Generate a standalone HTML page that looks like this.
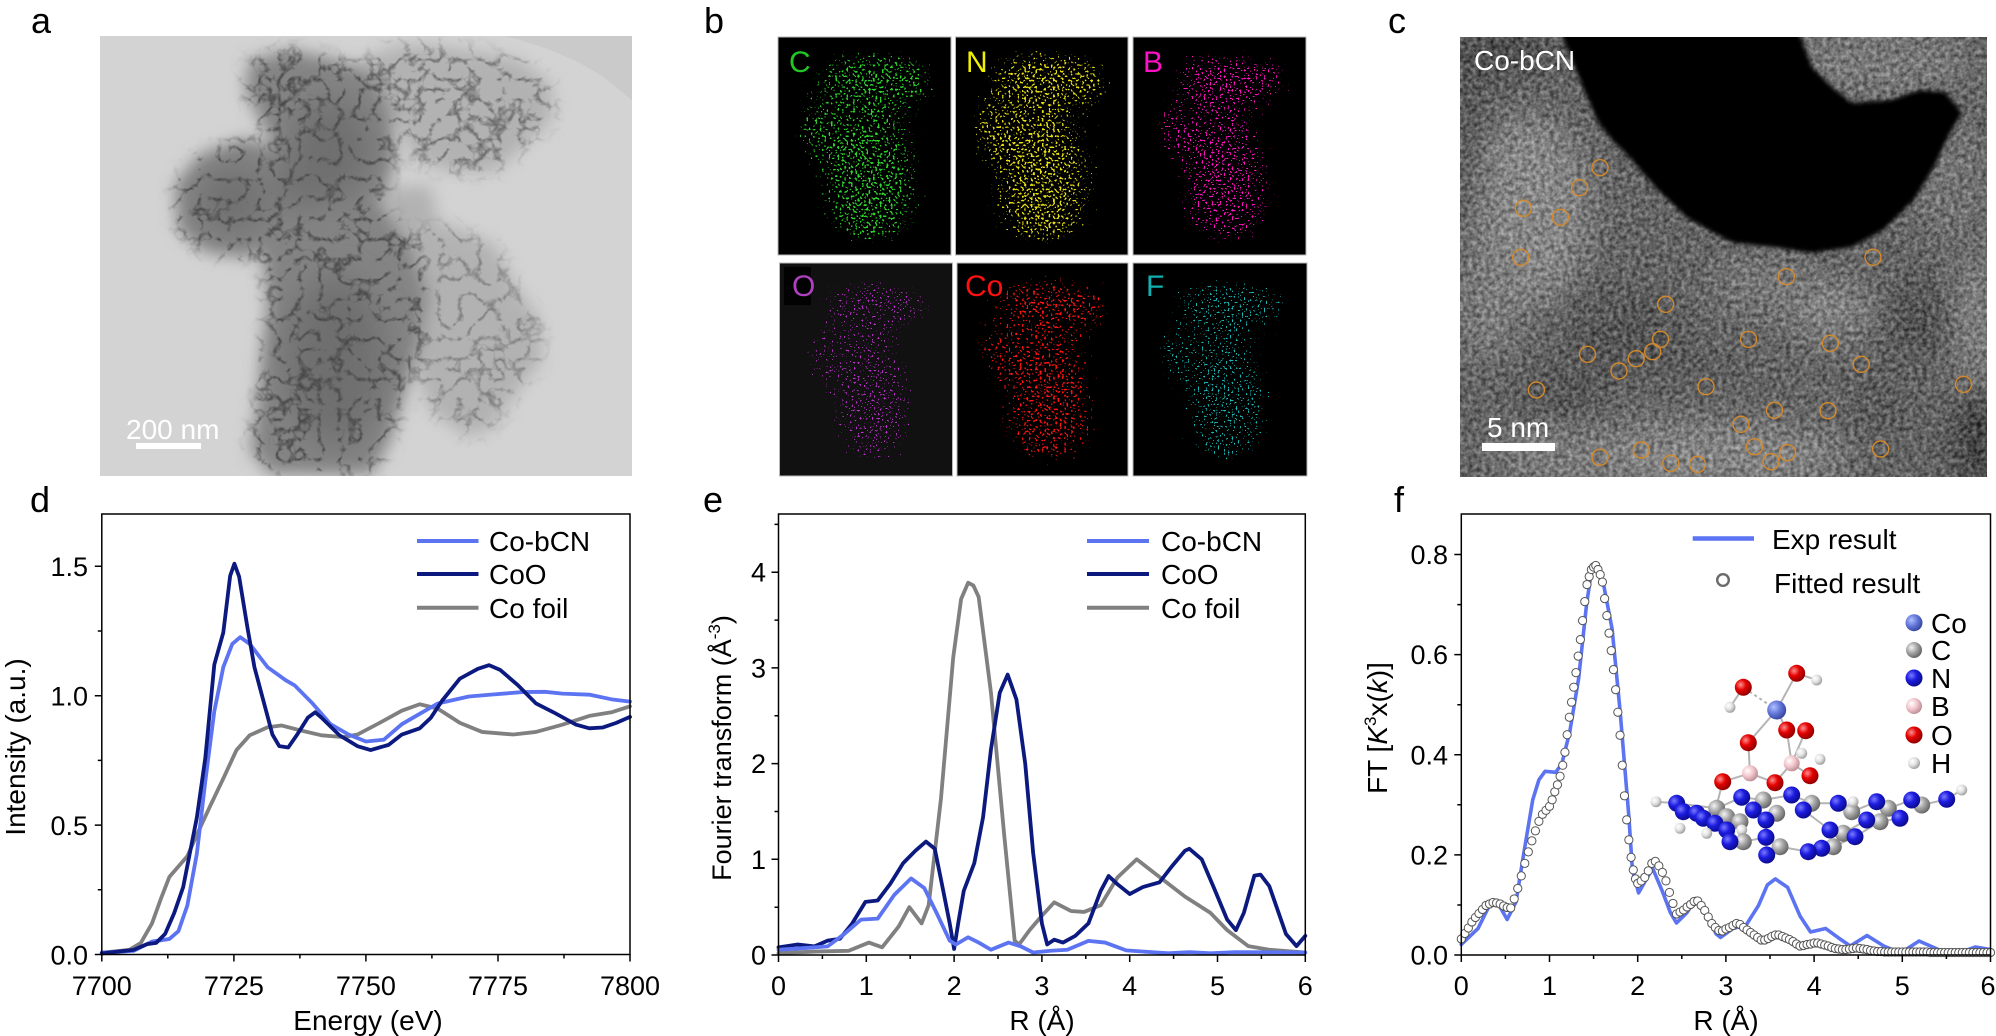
<!DOCTYPE html>
<html><head><meta charset="utf-8">
<style>
html,body{margin:0;padding:0;background:#fff;}
svg{display:block;}
text{font-family:"Liberation Sans",Arial,sans-serif;fill:#000;}
</style></head><body>
<svg width="1996" height="1036" viewBox="0 0 1996 1036" xmlns="http://www.w3.org/2000/svg">
<defs>
 <filter id="bl8" x="-20%" y="-20%" width="140%" height="140%"><feGaussianBlur stdDeviation="8"/></filter>
 <filter id="bl16" x="-30%" y="-30%" width="160%" height="160%"><feGaussianBlur stdDeviation="16"/></filter>
 <filter id="bl2"><feGaussianBlur stdDeviation="2"/></filter>
 <filter id="aTex" filterUnits="userSpaceOnUse" x="100" y="36" width="532" height="440" color-interpolation-filters="sRGB">
  <feTurbulence type="turbulence" baseFrequency="0.05" numOctaves="3" seed="11" result="t"/>
  <feColorMatrix in="t" type="matrix" values="0 0 0 0 0  0 0 0 0 0  0 0 0 0 0  -4 0 0 0 1.05" result="ta"/>
  <feGaussianBlur in="SourceAlpha" stdDeviation="8" result="sb"/>
  <feComposite in="ta" in2="sb" operator="arithmetic" k1="1" k2="0" k3="0" k4="0" result="m"/>
  <feFlood flood-color="#454545"/>
  <feComposite in2="m" operator="in"/>
 </filter>
 <filter id="grain" filterUnits="userSpaceOnUse" x="1460" y="37" width="527" height="440" color-interpolation-filters="sRGB">
  <feTurbulence type="fractalNoise" baseFrequency="0.22" numOctaves="2" seed="4"/>
  <feColorMatrix type="matrix" values="1.6 0 0 0 -0.3  1.6 0 0 0 -0.3  1.6 0 0 0 -0.3  0 0 0 0 0.35"/>
 </filter>
 <filter id="spG" x="0" y="0" width="1" height="1" color-interpolation-filters="sRGB">
  <feTurbulence type="fractalNoise" baseFrequency="0.45" numOctaves="1" seed="3" result="n"/>
  <feColorMatrix in="n" type="matrix" values="0 0 0 0 0  0 0 0 0 0  0 0 0 0 0  1 0 0 0 0" result="na"/>
  <feGaussianBlur in="SourceAlpha" stdDeviation="14" result="sb"/>
  <feComposite in="na" in2="sb" operator="arithmetic" k1="1" k2="0" k3="0" k4="0" result="m"/>
  <feComponentTransfer in="m" result="th"><feFuncA type="linear" slope="20" intercept="-11.24"/></feComponentTransfer>
  <feFlood flood-color="#2cd42c"/>
  <feComposite in2="th" operator="in"/>
 </filter>
 <filter id="spY" x="0" y="0" width="1" height="1" color-interpolation-filters="sRGB">
  <feTurbulence type="fractalNoise" baseFrequency="0.45" numOctaves="1" seed="8" result="n"/>
  <feColorMatrix in="n" type="matrix" values="0 0 0 0 0  0 0 0 0 0  0 0 0 0 0  1 0 0 0 0" result="na"/>
  <feGaussianBlur in="SourceAlpha" stdDeviation="14" result="sb"/>
  <feComposite in="na" in2="sb" operator="arithmetic" k1="1" k2="0" k3="0" k4="0" result="m"/>
  <feComponentTransfer in="m" result="th"><feFuncA type="linear" slope="20" intercept="-11.12"/></feComponentTransfer>
  <feFlood flood-color="#e8e010"/>
  <feComposite in2="th" operator="in"/>
 </filter>
 <filter id="spM" x="0" y="0" width="1" height="1" color-interpolation-filters="sRGB">
  <feTurbulence type="fractalNoise" baseFrequency="0.5" numOctaves="1" seed="13" result="n"/>
  <feColorMatrix in="n" type="matrix" values="0 0 0 0 0  0 0 0 0 0  0 0 0 0 0  1 0 0 0 0" result="na"/>
  <feGaussianBlur in="SourceAlpha" stdDeviation="14" result="sb"/>
  <feComposite in="na" in2="sb" operator="arithmetic" k1="1" k2="0" k3="0" k4="0" result="m"/>
  <feComponentTransfer in="m" result="th"><feFuncA type="linear" slope="20" intercept="-11.82"/></feComponentTransfer>
  <feFlood flood-color="#ff10c0"/>
  <feComposite in2="th" operator="in"/>
 </filter>
 <filter id="spP" x="0" y="0" width="1" height="1" color-interpolation-filters="sRGB">
  <feTurbulence type="fractalNoise" baseFrequency="0.5" numOctaves="1" seed="21" result="n"/>
  <feColorMatrix in="n" type="matrix" values="0 0 0 0 0  0 0 0 0 0  0 0 0 0 0  1 0 0 0 0" result="na"/>
  <feGaussianBlur in="SourceAlpha" stdDeviation="14" result="sb"/>
  <feComposite in="na" in2="sb" operator="arithmetic" k1="1" k2="0" k3="0" k4="0" result="m"/>
  <feComponentTransfer in="m" result="th"><feFuncA type="linear" slope="20" intercept="-12.4"/></feComponentTransfer>
  <feFlood flood-color="#c030d0"/>
  <feComposite in2="th" operator="in"/>
 </filter>
 <filter id="spR" x="0" y="0" width="1" height="1" color-interpolation-filters="sRGB">
  <feTurbulence type="fractalNoise" baseFrequency="0.45" numOctaves="1" seed="31" result="n"/>
  <feColorMatrix in="n" type="matrix" values="0 0 0 0 0  0 0 0 0 0  0 0 0 0 0  1 0 0 0 0" result="na"/>
  <feGaussianBlur in="SourceAlpha" stdDeviation="14" result="sb"/>
  <feComposite in="na" in2="sb" operator="arithmetic" k1="1" k2="0" k3="0" k4="0" result="m"/>
  <feComponentTransfer in="m" result="th"><feFuncA type="linear" slope="20" intercept="-11.5"/></feComponentTransfer>
  <feFlood flood-color="#ff1414"/>
  <feComposite in2="th" operator="in"/>
 </filter>
 <filter id="spC" x="0" y="0" width="1" height="1" color-interpolation-filters="sRGB">
  <feTurbulence type="fractalNoise" baseFrequency="0.5" numOctaves="1" seed="41" result="n"/>
  <feColorMatrix in="n" type="matrix" values="0 0 0 0 0  0 0 0 0 0  0 0 0 0 0  1 0 0 0 0" result="na"/>
  <feGaussianBlur in="SourceAlpha" stdDeviation="14" result="sb"/>
  <feComposite in="na" in2="sb" operator="arithmetic" k1="1" k2="0" k3="0" k4="0" result="m"/>
  <feComponentTransfer in="m" result="th"><feFuncA type="linear" slope="20" intercept="-12.3"/></feComponentTransfer>
  <feFlood flood-color="#18b8b8"/>
  <feComposite in2="th" operator="in"/>
 </filter>
 <g id="blob">
  <ellipse cx="91" cy="41" rx="51" ry="33"/>
  <ellipse cx="40" cy="92" rx="20" ry="30"/>
  <ellipse cx="93" cy="145" rx="44" ry="74"/>
  <ellipse cx="138" cy="45" rx="22" ry="24"/>
 </g>
 <marker id="ring" markerUnits="userSpaceOnUse" overflow="visible" markerWidth="1" markerHeight="1" refX="0" refY="0" orient="0">
  <ellipse cx="0" cy="0" rx="0.0522" ry="0.0092" fill="#555"/>
  <ellipse cx="0" cy="0" rx="0.0408" ry="0.00719" fill="#fff"/>
 </marker>
 <radialGradient id="gN" cx="0.35" cy="0.35" r="0.7"><stop offset="0" stop-color="#7a7aff"/><stop offset="0.45" stop-color="#1c1ce0"/><stop offset="1" stop-color="#0a0a88"/></radialGradient>
 <radialGradient id="gC" cx="0.35" cy="0.35" r="0.7"><stop offset="0" stop-color="#f4f4f4"/><stop offset="0.5" stop-color="#a4a4a4"/><stop offset="1" stop-color="#626262"/></radialGradient>
 <radialGradient id="gO" cx="0.35" cy="0.35" r="0.7"><stop offset="0" stop-color="#ff9090"/><stop offset="0.45" stop-color="#e40000"/><stop offset="1" stop-color="#8a0000"/></radialGradient>
 <radialGradient id="gB" cx="0.35" cy="0.35" r="0.7"><stop offset="0" stop-color="#ffffff"/><stop offset="0.5" stop-color="#f2c6cc"/><stop offset="1" stop-color="#b88c92"/></radialGradient>
 <radialGradient id="gH" cx="0.35" cy="0.35" r="0.7"><stop offset="0" stop-color="#ffffff"/><stop offset="0.5" stop-color="#e2e2e2"/><stop offset="1" stop-color="#9a9a9a"/></radialGradient>
 <radialGradient id="gCo" cx="0.35" cy="0.35" r="0.7"><stop offset="0" stop-color="#b0c0ff"/><stop offset="0.5" stop-color="#6478da"/><stop offset="1" stop-color="#34449c"/></radialGradient>
 <clipPath id="clipA"><rect x="100" y="36" width="532" height="440"/></clipPath>
 <clipPath id="clipC"><rect x="1460" y="37" width="527" height="440"/></clipPath>
</defs>

<rect x="0" y="0" width="1996" height="1036" fill="#fff"/>

<!-- panel labels -->
<text x="31" y="33" font-size="36">a</text>
<text x="704" y="33" font-size="36">b</text>
<text x="1388" y="33" font-size="36">c</text>
<text x="30" y="512" font-size="36">d</text>
<text x="703" y="512" font-size="36">e</text>
<text x="1394" y="512" font-size="36">f</text>

<!-- ============ PANEL A ============ -->
<g clip-path="url(#clipA)">
 <rect x="100" y="36" width="532" height="440" fill="#d3d3d3"/>
 <path d="M505,36 C540,45 575,58 600,75 C615,85 625,95 632,100 L632,36 Z" fill="#cacaca"/>
 <g filter="url(#bl8)" fill="#b2b2b2">
  <polygon points="405,230 450,225 495,245 515,285 540,320 542,360 515,395 490,430 465,436 430,410 412,360 415,300"/>
  <polygon points="360,60 400,45 440,46 480,52 520,60 552,85 552,120 520,150 495,172 450,172 415,160 400,130 375,100"/>
  <polygon points="380,190 430,185 440,230 400,235"/>
 </g>
 <g filter="url(#bl8)" fill="#848484">
  <polygon points="250,60 290,50 330,58 370,70 392,110 395,160 385,195 355,200 320,185 285,160 262,125 245,90"/>
  <polygon points="175,185 200,155 245,138 280,150 292,195 280,235 250,258 205,252 178,230"/>
  <polygon points="268,160 320,170 380,200 412,245 428,295 420,345 405,390 390,440 372,474 270,474 250,450 258,400 262,355 268,305 262,255 262,200"/>
  <ellipse cx="300" cy="180" rx="30" ry="30"/>
  <ellipse cx="300" cy="150" rx="25" ry="25"/>
 </g>
 <g filter="url(#bl16)" fill="#6c6c6c" opacity="0.85">
  <ellipse cx="335" cy="360" rx="50" ry="85"/>
  <ellipse cx="330" cy="150" rx="40" ry="50"/>
  <ellipse cx="232" cy="200" rx="32" ry="32"/>
  <ellipse cx="300" cy="185" rx="25" ry="25"/>
 </g>
 <g filter="url(#aTex)">
  <polygon points="250,60 290,50 330,58 370,70 392,110 395,160 385,195 355,200 320,185 285,160 262,125 245,90"/>
  <polygon points="175,185 200,155 245,138 280,150 292,195 280,235 250,258 205,252 178,230"/>
  <polygon points="268,160 320,170 380,200 412,245 428,295 420,345 405,390 390,440 372,474 270,474 250,450 258,400 262,355 268,305 262,255 262,200"/>
  <polygon points="360,60 400,45 440,46 480,52 520,60 552,85 552,120 520,150 495,172 450,172 415,160 400,130 375,100" opacity="0.7"/>
  <polygon points="405,230 450,225 495,245 515,285 540,320 542,360 515,395 490,430 465,436 430,410 412,360 415,300" opacity="0.5"/>
 </g>
 <text x="126" y="439" font-size="28" style="fill:#fff">200 nm</text>
 <rect x="136" y="443" width="65" height="6" fill="#fff"/>
</g>

<!-- ============ PANEL B ============ -->
<g>
 <rect x="778" y="37" width="173" height="218" fill="#000" stroke="#b8b8b8" stroke-width="1"/>
 <rect x="955.5" y="37" width="172.5" height="218" fill="#000" stroke="#b8b8b8" stroke-width="1"/>
 <rect x="1133" y="37" width="173" height="218" fill="#000" stroke="#b8b8b8" stroke-width="1"/>
 <rect x="779.5" y="263" width="173" height="213" fill="#111" stroke="#b8b8b8" stroke-width="1"/>
 <rect x="957" y="263" width="171" height="213" fill="#000" stroke="#b8b8b8" stroke-width="1"/>
 <rect x="1133" y="263" width="174" height="213" fill="#000" stroke="#b8b8b8" stroke-width="1"/>
 <rect x="784" y="267" width="27" height="38" fill="#020202"/>

 <g filter="url(#spG)"><rect x="778" y="37" width="173" height="218" fill="#000" opacity="0.7"/><use href="#blob" transform="translate(778,37)"/></g>
 <g filter="url(#spY)"><rect x="955.5" y="37" width="172.5" height="218" fill="#000" opacity="0.7"/><use href="#blob" transform="translate(950,37)"/></g>
 <g filter="url(#spM)"><rect x="1133" y="37" width="173" height="218" fill="#000" opacity="0.7"/><use href="#blob" transform="translate(1133,37)"/></g>
 <g filter="url(#spP)"><rect x="779.5" y="263" width="173" height="213" fill="#000" opacity="0.7"/><use href="#blob" transform="translate(779,262) scale(1,0.98)"/></g>
 <g filter="url(#spR)"><rect x="957" y="263" width="171" height="213" fill="#000" opacity="0.7"/><use href="#blob" transform="translate(956,262) scale(1,0.98)"/></g>
 <g filter="url(#spC)"><rect x="1133" y="263" width="174" height="213" fill="#000" opacity="0.7"/><use href="#blob" transform="translate(1133,262) scale(1,0.98)"/></g>

 <text x="789" y="72" font-size="30" style="fill:#22c822">C</text>
 <text x="966" y="72" font-size="30" style="fill:#f0f000">N</text>
 <text x="1143" y="72" font-size="30" style="fill:#ff10c8">B</text>
 <text x="792" y="296" font-size="30" style="fill:#b040c0">O</text>
 <text x="965" y="296" font-size="30" style="fill:#ff1010">Co</text>
 <text x="1146" y="296" font-size="30" style="fill:#10b0b0">F</text>
</g>

<!-- ============ PANEL C ============ -->
<g clip-path="url(#clipC)">
 <rect x="1460" y="37" width="527" height="440" fill="#565656"/>
 <g filter="url(#bl16)">
  <ellipse cx="1530" cy="210" rx="60" ry="95" fill="#8a8a8a"/>
  <ellipse cx="1490" cy="300" rx="30" ry="60" fill="#7c7c7c"/>
  <ellipse cx="1700" cy="455" rx="150" ry="32" fill="#878787"/>
  <ellipse cx="1560" cy="455" rx="70" ry="26" fill="#7e7e7e"/>
  <ellipse cx="1830" cy="310" rx="45" ry="32" fill="#828282"/>
  <ellipse cx="1760" cy="285" rx="50" ry="30" fill="#727272"/>
  <ellipse cx="1975" cy="320" rx="16" ry="70" fill="#8c8c8c"/>
  <ellipse cx="1880" cy="62" rx="95" ry="32" fill="#767676"/>
  <ellipse cx="1950" cy="180" rx="40" ry="60" fill="#6c6c6c"/>
  <ellipse cx="1500" cy="52" rx="55" ry="22" fill="#2c2c2c"/>
  <ellipse cx="1625" cy="335" rx="60" ry="40" fill="#3e3e3e"/>
  <ellipse cx="1560" cy="395" rx="50" ry="28" fill="#404040"/>
  <ellipse cx="1920" cy="320" rx="38" ry="40" fill="#3a3a3a"/>
  <ellipse cx="1978" cy="440" rx="22" ry="55" fill="#1c1c1c"/>
  <ellipse cx="1880" cy="410" rx="30" ry="40" fill="#464646"/>
  <ellipse cx="1470" cy="150" rx="12" ry="80" fill="#333"/>
  <ellipse cx="1700" cy="370" rx="40" ry="22" fill="#484848"/>
  <ellipse cx="1590" cy="300" rx="30" ry="25" fill="#4a4a4a"/>
 </g>
 <rect x="1460" y="37" width="527" height="440" filter="url(#grain)"/>
 <path filter="url(#bl2)" fill="#030303" d="M1560,30 L1572,60 L1584,90 L1598,122 L1612,140 L1630,158 L1655,187 L1686,217 L1714,233 L1734,243 L1773,247 L1812,253 L1852,247 L1883,230 L1914,200 L1934,167 L1950,133 L1962,113 L1945,92 L1920,90 L1891,100 L1852,103 L1832,87 L1812,67 L1798,30 Z"/>
 <g fill="none" stroke="#d4892a" stroke-width="1.4">
  <circle cx="1600" cy="167.7" r="8"/><circle cx="1579.6" cy="187.7" r="8"/><circle cx="1523.4" cy="208.3" r="8"/>
  <circle cx="1560.4" cy="217.3" r="8"/><circle cx="1520.7" cy="257.3" r="8"/><circle cx="1873" cy="257.3" r="8"/>
  <circle cx="1786.3" cy="276.7" r="8"/><circle cx="1665.7" cy="304.3" r="8"/><circle cx="1748.6" cy="339.3" r="8"/>
  <circle cx="1660.5" cy="339.3" r="8"/><circle cx="1830.3" cy="343.3" r="8"/><circle cx="1587.5" cy="354.3" r="8"/>
  <circle cx="1652.7" cy="351.7" r="8"/><circle cx="1636.2" cy="358.7" r="8"/><circle cx="1861.3" cy="364.3" r="8"/>
  <circle cx="1619" cy="371" r="8"/><circle cx="1706" cy="386.7" r="8"/><circle cx="1963.5" cy="384.3" r="8"/>
  <circle cx="1536.4" cy="390" r="8"/><circle cx="1774.5" cy="410.3" r="8"/><circle cx="1828" cy="410.7" r="8"/>
  <circle cx="1741" cy="424.3" r="8"/><circle cx="1754.5" cy="446.7" r="8"/><circle cx="1787.5" cy="452.7" r="8"/>
  <circle cx="1880.6" cy="449" r="8"/><circle cx="1641.3" cy="450" r="8"/><circle cx="1600" cy="457.3" r="8"/>
  <circle cx="1670.8" cy="463.3" r="8"/><circle cx="1697.5" cy="464.3" r="8"/><circle cx="1771" cy="461.7" r="8"/>
 </g>
 <text x="1474" y="70" font-size="28" style="fill:#fff">Co-bCN</text>
 <text x="1487" y="437" font-size="28" style="fill:#fff">5 nm</text>
 <rect x="1482" y="443" width="73" height="8" fill="#fff"/>
</g>

<!-- ============ PANEL D ============ -->
<g>
 <g transform="translate(101.8 954.5) scale(5.282 -258.8)" fill="none" stroke-linejoin="round" stroke-linecap="round">
  <polyline vector-effect="non-scaling-stroke" stroke="#808080" stroke-width="3.8" points="0,0.007 5.2,0.018 7.4,0.045 9.5,0.12 11.2,0.216 12.8,0.3 14.5,0.34 16.2,0.38 18,0.463 20.5,0.573 23,0.68 25.5,0.79 28,0.847 31.4,0.878 34,0.885 37.4,0.867 41.6,0.847 45.8,0.84 48.4,0.85 52.6,0.895 56.8,0.942 60.2,0.967 63.6,0.95 67.8,0.895 72,0.86 77.9,0.85 82.2,0.86 87.2,0.888 92.3,0.922 96.5,0.936 100,0.959"/>
  <polyline vector-effect="non-scaling-stroke" stroke="#5c73f2" stroke-width="3.8" points="0,0.007 6,0.014 9.5,0.05 12.8,0.06 14.5,0.09 16.2,0.19 18,0.39 19.6,0.67 21.3,0.94 23,1.11 24.7,1.2 26.2,1.226 28,1.2 31.4,1.11 34.8,1.06 36.5,1.04 39.9,0.97 43.3,0.89 46.7,0.85 50,0.823 53.4,0.83 56.8,0.89 60.2,0.93 63.6,0.97 69.5,0.997 73.7,1.004 79.6,1.014 83.9,1.015 87.2,1.008 92.3,1.004 96.5,0.986 100,0.977"/>
  <polyline vector-effect="non-scaling-stroke" stroke="#0c1a80" stroke-width="3.8" points="0,0.004 6,0.018 8.6,0.04 10.3,0.045 12,0.08 13.7,0.16 15.4,0.26 18,0.53 19.6,0.76 21.3,1.12 23,1.244 24.3,1.463 25.1,1.51 26,1.46 27.6,1.26 28.9,1.11 30.6,0.98 32.3,0.85 33.6,0.805 35.3,0.8 37,0.85 39,0.915 40.4,0.936 41.6,0.915 45,0.847 48.4,0.805 50.9,0.79 54.3,0.81 56.8,0.85 60.2,0.874 62.3,0.915 64.4,0.98 67.8,1.066 71.2,1.104 73.3,1.118 75.4,1.1 78.8,1.04 82.2,0.97 85.5,0.936 89.8,0.888 92.3,0.874 94.8,0.877 97.4,0.895 100,0.918"/>
 </g>
 <rect x="101.8" y="514" width="528.2" height="440.5" fill="none" stroke="#000" stroke-width="1.5"/>
 <path d="M101.8 954.5v7M233.9 954.5v7M365.9 954.5v7M498 954.5v7M630 954.5v7M167.8 954.5v4M299.9 954.5v4M431.9 954.5v4M564 954.5v4M101.8 954.5h-7M101.8 825.1h-7M101.8 695.7h-7M101.8 566.3h-7M101.8 889.8h-4M101.8 760.4h-4M101.8 631h-4" stroke="#000" stroke-width="1.5" fill="none"/>
 <g font-size="27" text-anchor="end">
  <text x="88" y="964.5">0.0</text><text x="88" y="835">0.5</text><text x="88" y="705.5">1.0</text><text x="88" y="576">1.5</text>
 </g>
 <g font-size="27" text-anchor="middle">
  <text x="101.8" y="995">7700</text><text x="233.9" y="995">7725</text><text x="365.9" y="995">7750</text><text x="498" y="995">7775</text><text x="630" y="995">7800</text>
 </g>
 <text x="368" y="1030" font-size="28" text-anchor="middle">Energy (eV)</text>
 <text transform="translate(25 747) rotate(-90)" font-size="28" text-anchor="middle">Intensity (a.u.)</text>
 <g stroke-width="4">
  <line x1="417" y1="541" x2="478.5" y2="541" stroke="#5c73f2"/>
  <line x1="417" y1="574" x2="478.5" y2="574" stroke="#0c1a80"/>
  <line x1="417" y1="607.7" x2="478.5" y2="607.7" stroke="#808080"/>
 </g>
 <g font-size="28">
  <text x="489" y="551">Co-bCN</text><text x="489" y="584">CoO</text><text x="489" y="618">Co foil</text>
 </g>
</g>

<!-- ============ PANEL E ============ -->
<g>
 <g transform="translate(778.5 955) scale(87.8 -95.7)" fill="none" stroke-linejoin="round" stroke-linecap="round">
  <polyline vector-effect="non-scaling-stroke" stroke="#808080" stroke-width="3.8" points="0,0.02 0.46,0.037 0.8,0.044 1.03,0.13 1.18,0.08 1.37,0.3 1.49,0.5 1.63,0.33 1.71,0.52 1.85,1.63 1.99,3.11 2.08,3.72 2.16,3.89 2.22,3.86 2.28,3.74 2.42,2.74 2.57,1.26 2.69,0.15 2.74,0.11 2.86,0.26 3.0,0.41 3.14,0.55 3.33,0.46 3.48,0.45 3.67,0.52 3.86,0.81 4.08,1.0 4.29,0.85 4.63,0.61 4.92,0.44 5.11,0.26 5.35,0.093 5.59,0.055 6,0.026"/>
  <polyline vector-effect="non-scaling-stroke" stroke="#0c1a80" stroke-width="3.8" points="0,0.08 0.22,0.11 0.41,0.09 0.56,0.15 0.7,0.17 0.84,0.33 0.99,0.555 1.13,0.57 1.27,0.74 1.42,0.96 1.56,1.09 1.68,1.185 1.78,1.11 1.87,0.7 1.95,0.33 2.0,0.063 2.05,0.35 2.11,0.67 2.23,0.96 2.33,1.44 2.42,2.15 2.52,2.74 2.61,2.93 2.71,2.67 2.81,2.0 2.9,1.07 3.0,0.33 3.06,0.11 3.14,0.16 3.24,0.13 3.38,0.2 3.53,0.33 3.67,0.67 3.76,0.826 3.86,0.74 4.0,0.637 4.15,0.71 4.34,0.76 4.48,0.926 4.63,1.09 4.68,1.11 4.82,1.0 4.96,0.7 5.11,0.37 5.21,0.26 5.3,0.44 5.42,0.83 5.49,0.84 5.59,0.72 5.78,0.22 5.9,0.093 6,0.2"/>
  <polyline vector-effect="non-scaling-stroke" stroke="#5c73f2" stroke-width="3.8" points="0,0.055 0.32,0.074 0.56,0.09 0.75,0.22 0.94,0.37 1.13,0.38 1.32,0.63 1.51,0.8 1.66,0.7 1.8,0.44 1.95,0.15 2.02,0.11 2.16,0.185 2.28,0.13 2.42,0.055 2.62,0.13 2.76,0.09 2.9,0.026 3.1,0.044 3.29,0.055 3.53,0.148 3.72,0.13 3.96,0.048 4.25,0.03 4.44,0.018 4.68,0.03 4.92,0.018 5.2,0.03 6,0.026"/>
 </g>
 <rect x="778.5" y="514" width="526.8" height="441" fill="none" stroke="#000" stroke-width="1.5"/>
 <path d="M778.5 955v7M866.3 955v7M954.1 955v7M1041.9 955v7M1129.7 955v7M1217.5 955v7M1305.3 955v7M822.4 955v4M910.2 955v4M998 955v4M1085.8 955v4M1173.6 955v4M1261.4 955v4M778.5 955h-7M778.5 859.3h-7M778.5 763.6h-7M778.5 667.9h-7M778.5 572.2h-7M778.5 907.2h-4M778.5 811.5h-4M778.5 715.8h-4M778.5 620.1h-4M778.5 524.4h-4" stroke="#000" stroke-width="1.5" fill="none"/>
 <g font-size="27" text-anchor="end">
  <text x="766" y="964.5">0</text><text x="766" y="868.8">1</text><text x="766" y="773.1">2</text><text x="766" y="677.4">3</text><text x="766" y="581.7">4</text>
 </g>
 <g font-size="27" text-anchor="middle">
  <text x="778.5" y="995">0</text><text x="866.3" y="995">1</text><text x="954.1" y="995">2</text><text x="1041.9" y="995">3</text><text x="1129.7" y="995">4</text><text x="1217.5" y="995">5</text><text x="1305.3" y="995">6</text>
 </g>
 <text x="1042" y="1030" font-size="28" text-anchor="middle">R (Å)</text>
 <text transform="translate(731 748) rotate(-90)" font-size="27" text-anchor="middle">Fourier transform (Å<tspan font-size="17" dy="-11">-3</tspan><tspan dy="11">)</tspan></text>
 <g stroke-width="4">
  <line x1="1087" y1="541" x2="1149" y2="541" stroke="#5c73f2"/>
  <line x1="1087" y1="574" x2="1149" y2="574" stroke="#0c1a80"/>
  <line x1="1087" y1="607.7" x2="1149" y2="607.7" stroke="#808080"/>
 </g>
 <g font-size="28">
  <text x="1161" y="551">Co-bCN</text><text x="1161" y="584">CoO</text><text x="1161" y="618">Co foil</text>
 </g>
</g>

<!-- ============ PANEL F ============ -->
<g>
 <g transform="translate(1461.3 955) scale(88.2 -500.6)" fill="none" stroke-linejoin="round" stroke-linecap="round">
  <polyline vector-effect="non-scaling-stroke" stroke="#5c73f2" stroke-width="3.6" points="0,0.021 0.19,0.053 0.33,0.103 0.43,0.099 0.52,0.071 0.62,0.106 0.71,0.205 0.81,0.31 0.88,0.35 0.95,0.367 1.07,0.365 1.14,0.382 1.23,0.446 1.33,0.552 1.42,0.7 1.47,0.76 1.52,0.779 1.61,0.743 1.71,0.651 1.8,0.488 1.9,0.276 1.94,0.17 2.01,0.124 2.09,0.149 2.17,0.173 2.28,0.127 2.37,0.085 2.44,0.064 2.56,0.085 2.66,0.113 2.75,0.092 2.89,0.042 2.94,0.035 3.08,0.053 3.23,0.06 3.37,0.099 3.47,0.14 3.56,0.152 3.7,0.135 3.84,0.078 3.96,0.046 4.13,0.053 4.27,0.035 4.41,0.018 4.6,0.039 4.79,0.018 4.98,0.004 5.19,0.028 5.46,0.007 5.64,0.004 5.83,0.016 6,0.011"/>
  <polyline stroke="none" fill="none" marker-start="url(#ring)" marker-mid="url(#ring)" marker-end="url(#ring)" points="0,0.032 0.04,0.043 0.08,0.054 0.12,0.066 0.16,0.075 0.2,0.083 0.24,0.091 0.28,0.099 0.32,0.102 0.36,0.105 0.4,0.104 0.44,0.102 0.48,0.098 0.52,0.095 0.56,0.094 0.6,0.112 0.64,0.133 0.68,0.158 0.72,0.183 0.76,0.206 0.8,0.228 0.84,0.248 0.88,0.267 0.92,0.281 0.96,0.289 1,0.297 1.03,0.31 1.06,0.326 1.09,0.34 1.12,0.357 1.15,0.379 1.175,0.405 1.2,0.44 1.225,0.475 1.25,0.505 1.275,0.535 1.3,0.564 1.325,0.597 1.35,0.63 1.375,0.668 1.4,0.706 1.425,0.74 1.45,0.756 1.475,0.77 1.5,0.775 1.525,0.778 1.55,0.77 1.575,0.76 1.6,0.745 1.625,0.712 1.65,0.678 1.675,0.643 1.7,0.608 1.725,0.57 1.75,0.53 1.775,0.485 1.8,0.439 1.825,0.379 1.85,0.318 1.875,0.27 1.9,0.23 1.925,0.195 1.95,0.17 1.975,0.152 2,0.143 2.04,0.148 2.08,0.155 2.12,0.168 2.16,0.183 2.2,0.187 2.24,0.178 2.28,0.165 2.32,0.148 2.36,0.125 2.4,0.103 2.44,0.082 2.48,0.086 2.52,0.09 2.56,0.096 2.6,0.101 2.64,0.107 2.68,0.108 2.72,0.099 2.76,0.089 2.8,0.076 2.84,0.063 2.88,0.055 2.92,0.049 2.96,0.048 3,0.052 3.04,0.055 3.08,0.059 3.12,0.063 3.16,0.061 3.2,0.055 3.24,0.05 3.28,0.045 3.32,0.04 3.36,0.035 3.4,0.03 3.44,0.03 3.48,0.033 3.52,0.037 3.56,0.04 3.6,0.04 3.64,0.037 3.68,0.034 3.72,0.031 3.76,0.027 3.8,0.022 3.84,0.018 3.88,0.019 3.92,0.021 3.96,0.022 4,0.024 4.04,0.024 4.08,0.022 4.12,0.02 4.16,0.018 4.2,0.015 4.24,0.013 4.28,0.012 4.32,0.011 4.36,0.011 4.4,0.012 4.44,0.013 4.48,0.014 4.52,0.013 4.56,0.012 4.6,0.011 4.64,0.009 4.68,0.008 4.72,0.007 4.76,0.007 4.8,0.006 4.84,0.006 4.88,0.006 4.92,0.006 4.96,0.006 5,0.006 5.04,0.006 5.08,0.006 5.12,0.006 5.16,0.006 5.2,0.006 5.24,0.006 5.28,0.006 5.32,0.005 5.36,0.005 5.4,0.005 5.44,0.005 5.48,0.005 5.52,0.005 5.56,0.005 5.6,0.005 5.64,0.005 5.68,0.005 5.72,0.005 5.76,0.005 5.8,0.005 5.84,0.005 5.88,0.005 5.92,0.005 5.96,0.005 6,0.005"/>
 </g>
 <rect x="1461.3" y="514" width="529.2" height="441" fill="none" stroke="#000" stroke-width="1.5"/>
 <path d="M1461.3 955v7M1549.5 955v7M1637.7 955v7M1725.9 955v7M1814.1 955v7M1902.3 955v7M1990.5 955v7M1505.4 955v4M1593.6 955v4M1681.8 955v4M1770 955v4M1858.2 955v4M1946.4 955v4M1461.3 955h-7M1461.3 854.9h-7M1461.3 754.8h-7M1461.3 654.6h-7M1461.3 554.5h-7M1461.3 905h-4M1461.3 804.8h-4M1461.3 704.7h-4M1461.3 604.6h-4" stroke="#000" stroke-width="1.5" fill="none"/>
 <g font-size="27" text-anchor="end">
  <text x="1448" y="964.5">0.0</text><text x="1448" y="864.4">0.2</text><text x="1448" y="764.3">0.4</text><text x="1448" y="664.1">0.6</text><text x="1448" y="564">0.8</text>
 </g>
 <g font-size="27" text-anchor="middle">
  <text x="1461.3" y="995">0</text><text x="1549.5" y="995">1</text><text x="1637.7" y="995">2</text><text x="1725.9" y="995">3</text><text x="1814.1" y="995">4</text><text x="1902.3" y="995">5</text><text x="1988" y="995">6</text>
 </g>
 <text x="1726" y="1030" font-size="28" text-anchor="middle">R (Å)</text>
 <text transform="translate(1387 728) rotate(-90)" font-size="28" text-anchor="middle">FT [<tspan font-style="italic">K</tspan><tspan font-size="17" dy="-11">3</tspan><tspan dy="11">x(</tspan><tspan font-style="italic">k</tspan>)]</text>
 <line x1="1692.7" y1="538.5" x2="1754" y2="538.5" stroke="#5c73f2" stroke-width="4.5"/>
 <circle cx="1723" cy="580" r="5.8" fill="#fff" stroke="#6a6a6a" stroke-width="2.4"/>
 <g font-size="28">
  <text x="1772" y="549">Exp result</text><text x="1774" y="593">Fitted result</text>
 </g>

 <!-- molecule bonds -->
 <g stroke="#b4b4b4" stroke-width="2" fill="none">
  <line x1="1776.7" y1="710" x2="1796.7" y2="673.3"/>
  <line x1="1796.7" y1="673.3" x2="1816.7" y2="680"/>
  <line x1="1776.7" y1="710" x2="1743.3" y2="687.3" stroke-dasharray="3 3"/>
  <line x1="1743.3" y1="687.3" x2="1730" y2="707.3"/>
  <line x1="1776.7" y1="710" x2="1748.3" y2="742.7"/>
  <line x1="1776.7" y1="710" x2="1786.7" y2="730"/>
  <line x1="1748.3" y1="742.7" x2="1750" y2="773.3"/>
  <line x1="1750" y1="773.3" x2="1722.7" y2="781.7"/>
  <line x1="1750" y1="773.3" x2="1775" y2="782.7"/>
  <line x1="1775" y1="782.7" x2="1791.7" y2="763.3"/>
  <line x1="1791.7" y1="763.3" x2="1786.7" y2="730"/>
  <line x1="1791.7" y1="763.3" x2="1805.7" y2="730.7"/>
  <line x1="1791.7" y1="763.3" x2="1810" y2="775.7"/>
  <line x1="1722.7" y1="781.7" x2="1716" y2="808"/>
  <polyline points="1656,801.7 1676.7,803.3 1716.7,808.3 1741.7,797.3 1763.3,800 1791.7,795 1811.7,803.3 1838.3,803.3 1851.7,811.7 1876.7,801.7 1888.3,808.3 1911.7,800 1921.7,805 1946.7,799.3 1961.7,790"/>
  <polyline points="1683.3,811.7 1703.3,818.3 1726.7,830 1743.3,841.7 1766,837.3 1780,846.7 1808.3,851.7 1833.3,846.7 1855,836.7 1880,821.7 1900,818.3"/>
  <polyline points="1753.3,810 1766,820 1766,837.3 1766.7,855"/>
  <polyline points="1803.3,810 1830,830 1843.3,833.3 1866.7,820"/>
 </g>
 <!-- molecule atoms -->
 <g>
  <circle cx="1656" cy="801.7" r="5.5" fill="url(#gH)"/>
  <circle cx="1716.7" cy="808.3" r="8.5" fill="url(#gC)"/>
  <circle cx="1726.7" cy="816.7" r="8.5" fill="url(#gC)"/>
  <circle cx="1740" cy="821.7" r="8.5" fill="url(#gC)"/>
  <circle cx="1676.7" cy="803.3" r="8.5" fill="url(#gN)"/>
  <circle cx="1683.3" cy="811.7" r="8.5" fill="url(#gN)"/>
  <circle cx="1696.7" cy="813.3" r="8.5" fill="url(#gN)"/>
  <circle cx="1703.3" cy="818.3" r="8.5" fill="url(#gN)"/>
  <circle cx="1715" cy="823.3" r="8.5" fill="url(#gN)"/>
  <circle cx="1680" cy="828.3" r="5.5" fill="url(#gH)"/>
  <circle cx="1706.7" cy="833.3" r="5.5" fill="url(#gH)"/>
  <circle cx="1741.7" cy="830" r="5.5" fill="url(#gH)"/>
  <circle cx="1743.3" cy="841.7" r="8.5" fill="url(#gC)"/>
  <circle cx="1726.7" cy="830" r="8.5" fill="url(#gN)"/>
  <circle cx="1730" cy="841.7" r="8.5" fill="url(#gN)"/>
  <circle cx="1763.3" cy="800" r="8.5" fill="url(#gC)"/>
  <circle cx="1776.7" cy="813.3" r="8.5" fill="url(#gC)"/>
  <circle cx="1780" cy="846.7" r="8.5" fill="url(#gC)"/>
  <circle cx="1741.7" cy="797.3" r="8.5" fill="url(#gN)"/>
  <circle cx="1753.3" cy="810" r="8.5" fill="url(#gN)"/>
  <circle cx="1766" cy="820" r="8.5" fill="url(#gN)"/>
  <circle cx="1766" cy="837.3" r="8.5" fill="url(#gN)"/>
  <circle cx="1766.7" cy="855" r="8.5" fill="url(#gN)"/>
  <circle cx="1811.7" cy="803.3" r="8.5" fill="url(#gC)"/>
  <circle cx="1851.7" cy="811.7" r="8.5" fill="url(#gC)"/>
  <circle cx="1853" cy="801.7" r="5.5" fill="url(#gH)"/>
  <circle cx="1888.3" cy="808.3" r="8.5" fill="url(#gC)"/>
  <circle cx="1921.7" cy="805" r="8.5" fill="url(#gC)"/>
  <circle cx="1880" cy="821.7" r="8.5" fill="url(#gC)"/>
  <circle cx="1843.3" cy="833.3" r="8.5" fill="url(#gC)"/>
  <circle cx="1833.3" cy="846.7" r="8.5" fill="url(#gC)"/>
  <circle cx="1791.7" cy="795" r="8.5" fill="url(#gN)"/>
  <circle cx="1803.3" cy="810" r="8.5" fill="url(#gN)"/>
  <circle cx="1838.3" cy="803.3" r="8.5" fill="url(#gN)"/>
  <circle cx="1876.7" cy="801.7" r="8.5" fill="url(#gN)"/>
  <circle cx="1911.7" cy="800" r="8.5" fill="url(#gN)"/>
  <circle cx="1961.7" cy="790" r="5.5" fill="url(#gH)"/>
  <circle cx="1946.7" cy="799.3" r="8.5" fill="url(#gN)"/>
  <circle cx="1900" cy="818.3" r="8.5" fill="url(#gN)"/>
  <circle cx="1866.7" cy="820" r="8.5" fill="url(#gN)"/>
  <circle cx="1855" cy="836.7" r="8.5" fill="url(#gN)"/>
  <circle cx="1830" cy="830" r="8.5" fill="url(#gN)"/>
  <circle cx="1821.7" cy="848.3" r="8.5" fill="url(#gN)"/>
  <circle cx="1808.3" cy="851.7" r="8.5" fill="url(#gN)"/>
  <!-- top -->
  <circle cx="1722.7" cy="781.7" r="8.5" fill="url(#gO)"/>
  <circle cx="1750" cy="773.3" r="8" fill="url(#gB)"/>
  <circle cx="1775" cy="782.7" r="8.5" fill="url(#gO)"/>
  <circle cx="1801.7" cy="753.3" r="5.5" fill="url(#gH)"/>
  <circle cx="1820" cy="759.3" r="5.5" fill="url(#gH)"/>
  <circle cx="1791.7" cy="763.3" r="8" fill="url(#gB)"/>
  <circle cx="1810" cy="775.7" r="8.5" fill="url(#gO)"/>
  <circle cx="1748.3" cy="742.7" r="8.5" fill="url(#gO)"/>
  <circle cx="1776.7" cy="710" r="9.5" fill="url(#gCo)"/>
  <circle cx="1786.7" cy="730" r="8.5" fill="url(#gO)"/>
  <circle cx="1805.7" cy="730.7" r="8.5" fill="url(#gO)"/>
  <circle cx="1730" cy="707.3" r="5.5" fill="url(#gH)"/>
  <circle cx="1743.3" cy="687.3" r="8.5" fill="url(#gO)"/>
  <circle cx="1816.7" cy="680" r="5.5" fill="url(#gH)"/>
  <circle cx="1796.7" cy="673.3" r="8.5" fill="url(#gO)"/>
 </g>
 <!-- atom legend -->
 <circle cx="1914" cy="622.7" r="8.5" fill="url(#gCo)"/>
 <circle cx="1914" cy="650" r="8" fill="url(#gC)"/>
 <circle cx="1914" cy="678" r="8.5" fill="url(#gN)"/>
 <circle cx="1914" cy="706" r="8" fill="url(#gB)"/>
 <circle cx="1914" cy="735" r="8.5" fill="url(#gO)"/>
 <circle cx="1914" cy="763" r="6" fill="url(#gH)"/>
 <g font-size="28">
  <text x="1931" y="633">Co</text><text x="1931" y="660">C</text><text x="1931" y="688">N</text><text x="1931" y="716">B</text><text x="1931" y="745">O</text><text x="1931" y="773">H</text>
 </g>
</g>
</svg>
</body></html>
